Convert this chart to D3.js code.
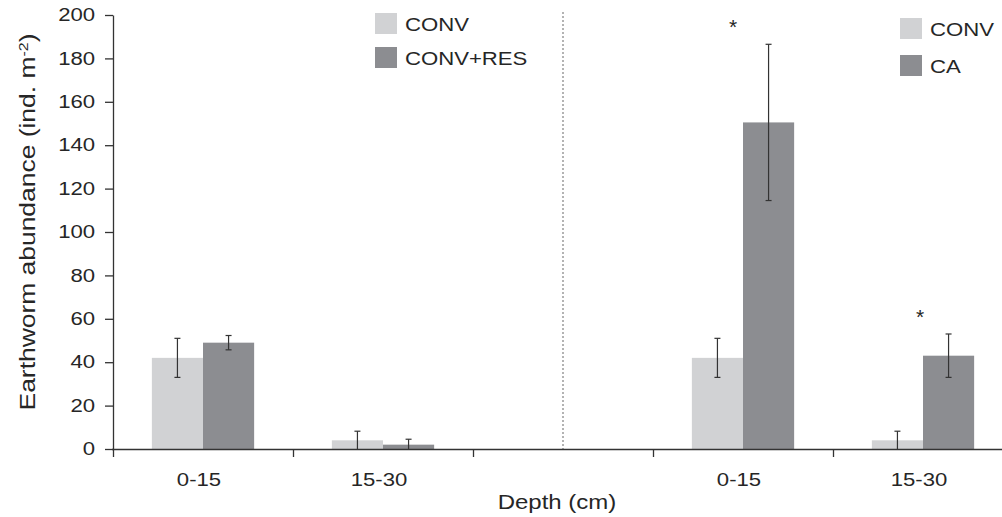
<!DOCTYPE html>
<meta charset="utf-8">
<style>
body { margin: 0; background: #fff; }
text { font-family: "Liberation Sans", Arial, Helvetica, sans-serif; fill: #262626; }
.axis path, .axis line { stroke: #333; stroke-width: 1.3; }
</style>

<svg width="1002" height="517"></svg>

<script src="https://d3js.org/d3.v7.min.js"></script>
<script>

// depth classes, shared by both panels
var depths = ["0-15", "15-30"];

// left panel: CONV vs CONV+RES
var convA = [42, 4],
    convAErr = [9, 4.2],
    resA = [49, 2],
    resAErr = [3.3, 2.5];

// right panel: CONV vs CA
var convB = [42, 4],
    convBErr = [9, 4.2],
    caB = [150.5, 43],
    caBErr = [36, 10];

// significant differences in the right panel
var sigB = [true, true];

var yTicks = [0, 20, 40, 60, 80, 100, 120, 140, 160, 180, 200];
var slotLabels = ["0-15", "15-30", "", "0-15", "15-30"];

var light = "#d1d2d4", dark = "#8c8d91";
var sx = 1.23; // the source text is drawn horizontally stretched

var svg = d3.select("svg");

var mLeft = 113, mTop = 15, mBottom = 449;

var x = d3.scaleBand().domain(d3.range(5)).range([mLeft, mLeft + 900]).padding(0);
var xEdge = d3.scaleLinear().domain([0, 5]).range([mLeft, mLeft + 900]);
var inner = d3.scaleBand().domain([0, 1]).range([0, x.bandwidth()]).paddingInner(0).paddingOuter(0.76);
var y = d3.scaleLinear().domain([0, 200]).range([mBottom, mTop]);

// bars + errors, built from the arrays above
var bars = [];
depths.forEach(function(d, i) {
  bars.push({slot: i, s: 0, v: convA[i], e: convAErr[i], c: light});
  bars.push({slot: i, s: 1, v: resA[i], e: resAErr[i], c: dark});
  bars.push({slot: i + 3, s: 0, v: convB[i], e: convBErr[i], c: light});
  bars.push({slot: i + 3, s: 1, v: caB[i], e: caBErr[i], c: dark});
});

// dotted panel divider
svg.append("line")
    .attr("x1", x(2) + x.bandwidth() / 2).attr("x2", x(2) + x.bandwidth() / 2)
    .attr("y1", 12).attr("y2", mBottom)
    .attr("stroke", "#9a9a9a").attr("stroke-width", 1.5)
    .attr("stroke-dasharray", "2,2");

svg.append("g")
  .selectAll("rect")
  .data(bars)
  .enter().append("rect")
    .attr("x", d => x(d.slot) + inner(d.s))
    .attr("width", inner.bandwidth())
    .attr("y", d => y(d.v))
    .attr("height", d => y(0) - y(d.v))
    .attr("fill", d => d.c);

var err = svg.append("g")
    .attr("stroke", "#333").attr("stroke-width", 1.2)
  .selectAll("g")
  .data(bars)
  .enter().append("g")
    .attr("transform", d => "translate(" + (x(d.slot) + inner(d.s) + inner.bandwidth() / 2) + ",0)");

err.append("line")
    .attr("y1", d => y(Math.max(0, d.v - d.e)))
    .attr("y2", d => y(d.v + d.e));
err.append("line")
    .attr("x1", -3).attr("x2", 3)
    .attr("y1", d => y(d.v + d.e)).attr("y2", d => y(d.v + d.e));
err.filter(d => d.v - d.e > 0).append("line")
    .attr("x1", -3).attr("x2", 3)
    .attr("y1", d => y(d.v - d.e)).attr("y2", d => y(d.v - d.e));

// asterisks above the CA bars
sigB.forEach(function(s, i) {
  if (!s) return;
  svg.append("text")
      .attr("transform", "translate(" + (x(i + 3) + x.bandwidth() / 2 - (i ? 3 : 10)) + "," + (y(caB[i] + caBErr[i]) - 10) + ")")
      .attr("text-anchor", "middle")
      .style("font-size", "21px")
      .text("*");
});

// axes
var yAxis = svg.append("g")
    .attr("class", "axis")
    .attr("transform", "translate(" + mLeft + ",0)")
    .call(d3.axisLeft(y).tickValues(yTicks).tickSize(8).tickSizeOuter(0));
yAxis.selectAll("text")
    .attr("x", -14.5)
    .attr("transform", "scale(" + sx + ",1)")
    .style("font-size", "18px").style("fill", "#262626");

var xAxis = svg.append("g")
    .attr("class", "axis")
    .attr("transform", "translate(0," + mBottom + ")")
    .call(d3.axisBottom(xEdge).tickValues(d3.range(6)).tickFormat("").tickSize(8).tickSizeOuter(0));
xAxis.select(".domain").attr("d", "M" + (mLeft - 1) + ",0.5H" + (mLeft + 900));

var xLab = svg.append("g")
    .attr("transform", "translate(-4," + mBottom + ")")
    .call(d3.axisBottom(x).tickFormat(i => slotLabels[i]).tickSize(0));
xLab.select(".domain").remove();
xLab.selectAll("text")
    .attr("y", 37).attr("dy", null)
    .attr("transform", "scale(" + sx + ",1)")
    .style("font-size", "18px").style("fill", "#262626");

// axis titles
svg.append("text")
    .attr("transform", "translate(557,509) scale(1.2,1)")
    .attr("text-anchor", "middle")
    .style("font-size", "20px")
    .text("Depth (cm)");

var yt = svg.append("text")
    .attr("transform", "translate(35,222) rotate(-90) scale(" + sx + ",1)")
    .attr("text-anchor", "middle")
    .style("font-size", "21.5px")
    .text("Earthworm abundance (ind. m");
yt.append("tspan").attr("dy", -7).style("font-size", "13px").text("-2");
yt.append("tspan").attr("dy", 7).text(")");

// legends
function legend(px, py, gap, items) {
  var g = svg.append("g").attr("transform", "translate(" + px + "," + py + ")");
  items.forEach(function(it, i) {
    g.append("rect").attr("x", 0).attr("y", i * gap).attr("width", 22).attr("height", 21).attr("fill", it[1]);
    g.append("text")
        .attr("transform", "translate(30," + (i * gap + 18) + ") scale(" + sx + ",1)")
        .style("font-size", "18px")
        .text(it[0]);
  });
}
legend(375, 13, 34, [["CONV", light], ["CONV+RES", dark]]);
legend(900, 18, 37, [["CONV", light], ["CA", dark]]);

</script>
